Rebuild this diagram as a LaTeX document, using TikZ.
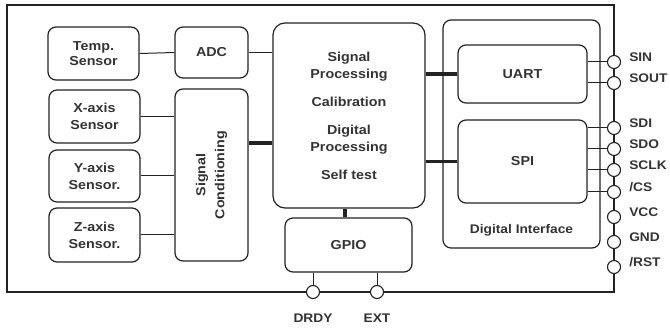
\documentclass[tikz,border=0pt]{standalone}
\usepackage{fontspec}
\setmainfont[FakeStretch=1.1]{Liberation Sans}
\definecolor{ink}{HTML}{222222}
\definecolor{txt}{HTML}{333333}
\begin{document}
\begin{tikzpicture}[x=1pt,y=-1pt,
  box/.style={draw=ink,line width=1.2pt,rounded corners=8pt,inner sep=0pt,
    align=center,font=\bfseries\fontsize{13}{17}\selectfont,text=txt},
  thin/.style={draw=ink,line width=1pt},
  thick/.style={draw=ink,line width=3.6pt},
  pin/.style={circle,draw=ink,line width=1.1pt,fill=white,minimum size=13pt,inner sep=0pt},
  lbl/.style={inner sep=0pt,font=\bfseries\fontsize{12.5}{15}\selectfont,text=txt},
  pinlbl/.style={lbl,anchor=west,xshift=8pt,yshift=5pt}]
\useasboundingbox (0,0) rectangle (670,328);
% outer frame
\draw[ink,line width=1.6pt] (7,5) rectangle (614,292);
% boxes
\node[box,minimum width=91pt,minimum height=53pt] (temp) at (93.5,53.5) {Temp.\\[-2pt]Sensor};
\node[box,minimum width=73pt,minimum height=51pt] (adc) at (211.5,52.5) {ADC};
\node[box,minimum width=91pt,minimum height=53pt] (xs) at (94.5,116.5) {X-axis\\Sensor};
\node[box,minimum width=91pt,minimum height=52pt] (ys) at (94.5,176) {Y-axis\\Sensor.};
\node[box,minimum width=91pt,minimum height=54pt] (zs) at (94.5,235) {Z-axis\\Sensor.};
\node[box,minimum width=73pt,minimum height=172pt] (sc) at (211.5,175) {};
\node[inner sep=0pt,rotate=90,align=center,font=\bfseries\fontsize{13}{19}\selectfont,text=txt] (sctext) at (sc.center) {Signal\\Conditioning};
\node[box,rounded corners=12pt,minimum width=152pt,minimum height=185pt] (cp) at (349,115.5)
  {Signal\\Processing\\[11pt]Calibration\\[11pt]Digital\\Processing\\[11pt]Self test};
\node[box,minimum width=127pt,minimum height=54pt] (gpio) at (348.5,245) {GPIO};
\node[box,minimum width=157pt,minimum height=228pt] (di) at (521.5,134) {};
\node[lbl] (ditext) at (521.5,230) {Digital Interface};
\node[box,minimum width=129pt,minimum height=58pt] (uart) at (522.5,74) {UART};
\node[box,minimum width=129pt,minimum height=83pt] (spi) at (522.5,161.5) {SPI};
% internal connectors
\draw[thin] (temp.east) -- (adc.west);
\draw[thin] (adc.east) -- (adc.east -| cp.west);
\draw[thin] (xs.east) -- (xs.east -| sc.west);
\draw[thin] (ys.east) -- (ys.east -| sc.west);
\draw[thin] (zs.east) -- (zs.east -| sc.west);
\draw[thick] ([yshift=32pt]sc.east) -- ([yshift=32pt]sc.east -| cp.west);
\draw[thick] (cp.east |- uart.west) -- (uart.west);
\draw[thick] (cp.east |- spi.west) -- (spi.west);
\draw[thick] ([xshift=-4pt]cp.south) -- ([xshift=-3.5pt]gpio.north);
% right pins
\node[pin] (pSIN) at (614,62) {};
\node[pin] (pSOUT) at (614,83) {};
\node[pin] (pSDI) at (614,128) {};
\node[pin] (pSDO) at (614,149) {};
\node[pin] (pSCLK) at (614,170) {};
\node[pin] (pCS) at (614,192) {};
\node[pin] (pVCC) at (614,217) {};
\node[pin] (pGND) at (614,242) {};
\node[pin] (pRST) at (614,267) {};
% bottom pins
\node[pin] (pDRDY) at (313,292) {};
\node[pin] (pEXT) at (377,292) {};
% stubs
\draw[thin] (uart.east |- pSIN) -- (pSIN.west);
\draw[thin] (uart.east |- pSOUT) -- (pSOUT.west);
\draw[thin] (spi.east |- pSDI) -- (pSDI.west);
\draw[thin] (spi.east |- pSDO) -- (pSDO.west);
\draw[thin] (spi.east |- pSCLK) -- (pSCLK.west);
\draw[thin] (spi.east |- pCS) -- (pCS.west);
\draw[thin] (gpio.south -| pDRDY) -- (pDRDY.north);
\draw[thin] (gpio.south -| pEXT) -- (pEXT.north);
% labels
\node[pinlbl] (lSIN) at (pSIN.east) {SIN};
\node[pinlbl] (lSOUT) at (pSOUT.east) {SOUT};
\node[pinlbl] (lSDI) at (pSDI.east) {SDI};
\node[pinlbl] (lSDO) at (pSDO.east) {SDO};
\node[pinlbl] (lSCLK) at (pSCLK.east) {SCLK};
\node[pinlbl] (lCS) at (pCS.east) {/CS};
\node[pinlbl] (lVCC) at (pVCC.east) {VCC};
\node[pinlbl] (lGND) at (pGND.east) {GND};
\node[pinlbl] (lRST) at (pRST.east) {/RST};
\node[lbl] (lDRDY) at (313,318) {DRDY};
\node[lbl] (lEXT) at (377,318) {EXT};
\end{tikzpicture}
\end{document}
